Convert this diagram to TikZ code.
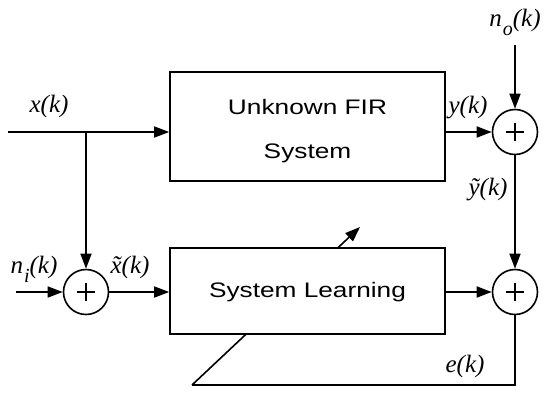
\documentclass[tikz,border=0pt]{standalone}
\usepackage{fontspec}
\setmainfont{Liberation Serif}
\newfontfamily\boxfont[FakeStretch=1.25]{Liberation Sans}
\usetikzlibrary{arrows.meta}
\begin{document}
\begin{tikzpicture}[x=1pt,y=-1pt,
  line/.style={line width=1.6pt},
  arr/.style={line width=1.6pt, -{Triangle[length=15pt,width=11pt]}},
  sumnode/.style={circle, draw, line width=1.6pt, minimum size=45pt, inner sep=0pt, fill=white,
    path picture={\draw[line width=1.1pt] ([xshift=-9pt]path picture bounding box.center) -- ([xshift=9pt]path picture bounding box.center);
                  \draw[line width=1.1pt] ([yshift=-9pt]path picture bounding box.center) -- ([yshift=9pt]path picture bounding box.center);}},
  blk/.style={draw, line width=1.6pt, fill=white, minimum width=275pt, inner sep=0pt,
    font=\boxfont\fontsize{21}{44}\selectfont, align=center},
  lbl/.style={font=\itshape\fontsize{25}{25}\selectfont, inner sep=0pt}]
\useasboundingbox (0,0) rectangle (550,405);

% summing junctions
\node[sumnode] (s1) at (515,132) {};
\node[sumnode] (s2) at (515,292) {};
\node[sumnode] (s0) at (86,292) {};

% adaptation feedback (drawn below the learning block)
\coordinate (c1) at (192,385);
\coordinate (tip) at (360,227);
\draw[line] (s2.south) |- (c1);
\draw[arr] (c1) -- (tip);

% blocks
\node[blk, minimum height=109pt] (fir) at (307.5,126.5) {\rule{0pt}{24pt}Unknown FIR\\[0pt]System};
\node[blk, minimum height=86pt] (learn) at (307.5,291) {\rule{0pt}{17pt}System Learning};

% coordinates
\coordinate (xin) at (8,132);
\coordinate (br) at (86,132);
\coordinate (nin) at (16,292);
\coordinate (noin) at (515,45);

% connectors
\draw[arr] (xin) -- (fir.west |- xin);
\draw[arr] (br) -- (s0.north);
\draw[arr] (nin) -- (s0.west);
\draw[arr] (s0.east) -- (learn.west |- s0.east);
\draw[arr] (fir.east |- s1.west) -- (s1.west);
\draw[arr] (noin) -- (s1.north);
\draw[arr] (s1.south) -- (s2.north);
\draw[arr] (learn.east |- s2.west) -- (s2.west);

% labels
\node[lbl] (lx) at (49,106) {x(k)};
\node[lbl] (lno) at (515,22) {n\kern1pt\raisebox{-9pt}{\fontsize{20}{20}\selectfont o}(k)};
\node[lbl] (ly) at (468,108) {y(k)};
\node[lbl] (lyt) at (488,190) {ỹ(k)};
\node[lbl] (lni) at (34,269) {n\kern1pt\raisebox{-9pt}{\fontsize{20}{20}\selectfont i}(k)};
\node[lbl] (lxt) at (130,267) {x̃(k)};
\node[lbl] (le) at (465,366) {e(k)};
\end{tikzpicture}
\end{document}
